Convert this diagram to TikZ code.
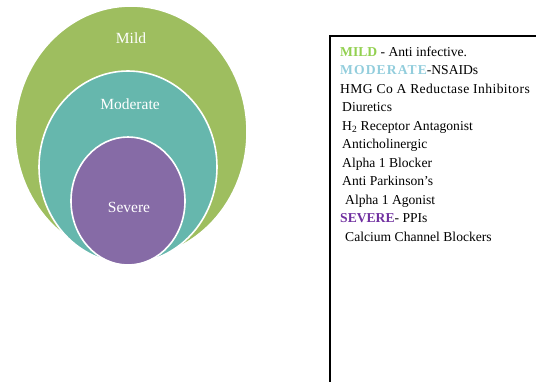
\documentclass[tikz,border=0pt]{standalone}
\usepackage{fontspec}
\setmainfont{Liberation Serif}
\definecolor{mildgreen}{RGB}{158,190,95}
\definecolor{modteal}{RGB}{102,183,173}
\definecolor{sevpurple}{RGB}{134,107,166}
\definecolor{mildtext}{RGB}{146,208,80}
\definecolor{modtext}{RGB}{146,205,220}
\definecolor{sevtext}{RGB}{112,48,160}
\begin{document}
\begin{tikzpicture}[
        x=1pt, y=-1pt,
        ring/.style={draw=white, line width=1.6pt},
        ringlabel/.style={text=white, font=\fontsize{15.5}{18}\selectfont},
        item/.style={anchor=base west, inner sep=0pt, font=\fontsize{13.6}{16}\selectfont}
    ]
        \useasboundingbox (0,0) rectangle (536,381);

        % Nested circles
        \fill[ring, fill=mildgreen] (131,132) ellipse [x radius=116, y radius=126];
        \fill[ring, fill=modteal] (128,167) ellipse [x radius=89, y radius=96];
        \fill[ring, fill=sevpurple] (128,201) ellipse [x radius=57, y radius=64];

        \node[ringlabel] (mild) at (131,38) {Mild};
        \node[ringlabel] (moderate) at (130,104) {Moderate};
        \node[ringlabel] (severe) at (129,207) {Severe};

        % Legend box
        \begin{scope}
            \clip (0,0) rectangle (536,381);
            \draw[line width=1.3pt] (330,36) rectangle (545,390);
        \end{scope}

        \node[item] (l1) at (340,56) {\textbf{\color{mildtext}MILD} - Anti infective.};
        \node[item] (l2) at (340,74.5) {{\addfontfeatures{LetterSpace=8}\textbf{\color{modtext}MODERATE}}-NSAIDs};
        \node[item] (l3) at (340,93) {\addfontfeatures{LetterSpace=3}HMG Co A Reductase Inhibitors};
        \node[item] (l4) at (342,111.5) {Diuretics};
        \node[item] (l5) at (342,130) {H\textsubscript{2} Receptor Antagonist};
        \node[item] (l6) at (342,148.5) {Anticholinergic};
        \node[item] (l7) at (342,167) {Alpha 1 Blocker};
        \node[item] (l8) at (342,185.5) {Anti Parkinson's};
        \node[item] (l9) at (345,204) {Alpha 1 Agonist};
        \node[item] (l10) at (340,222.5) {\textbf{\color{sevtext}SEVERE}- PPIs};
        \node[item] (l11) at (345,241) {Calcium Channel Blockers};
    \end{tikzpicture}
\end{document}
